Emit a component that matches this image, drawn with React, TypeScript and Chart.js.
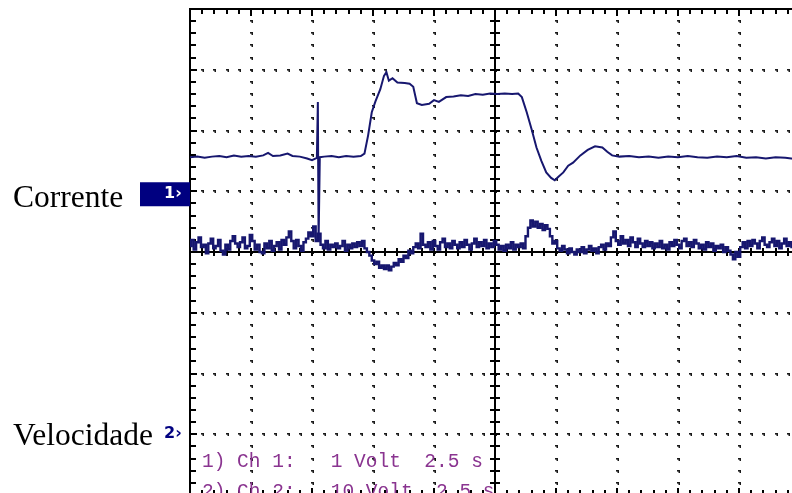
import { useEffect, useRef } from 'react';
import { Chart, registerables } from 'chart.js';

Chart.register(...registerables);

// Graticule: 10 x 8 divisions, 5 minor steps per division
const TIME_PER_DIV = 2.5; // s/div
const DIVS_X = 10;
const DIVS_Y = 8;
const MINOR_STEPS = 5;

// Channel scaling and reference levels (in divisions from the centre line)
const CH1_VOLTS_PER_DIV = 1;
const CH2_VOLTS_PER_DIV = 10;
const CH1_REF_DIV = 1;
const CH2_REF_DIV = -3;

const CHANNEL_LABELS = ['Corrente', 'Velocidade'];
const CHANNEL_MARKERS = ['1\u203A', '2\u203A'];
const READOUT_LINES = ['1) Ch 1:   1 Volt  2.5 s', '2) Ch 2:   10 Volt  2.5 s'];

// Channel 1 (corrente): sample times [s] and levels [V]
const CH1_TIMES = [
  0.0, 0.3, 0.6, 0.9, 1.2, 1.5, 1.8, 2.1, 2.4, 2.7, 3.0, 3.2, 3.4, 3.7, 4.0, 4.2, 4.5, 4.8, 5.0, 5.2,
  5.24, 5.27, 5.32, 5.5, 5.8, 6.1, 6.4, 6.7, 7.0, 7.15, 7.3, 7.45, 7.6, 7.8, 7.95, 8.05, 8.15, 8.3, 8.5, 8.8,
  9.0, 9.15, 9.3, 9.5, 9.8, 10.0, 10.2, 10.5, 10.8, 11.1, 11.4, 11.7, 12.0, 12.3, 12.6, 12.9, 13.2, 13.45, 13.6, 13.8,
  14.0, 14.2, 14.4, 14.6, 14.8, 14.95, 15.1, 15.3, 15.5, 15.7, 16.0, 16.3, 16.6, 16.9, 17.1, 17.3, 17.6, 18.0, 18.4, 18.8,
  19.2, 19.6, 20.0, 20.4, 20.8, 21.2, 21.6, 22.0, 22.4, 22.8, 23.2, 23.6, 24.0, 24.4, 24.8, 25.0,
];
const CH1_VOLTS = [
  0.56, 0.57, 0.55, 0.57, 0.58, 0.56, 0.59, 0.57, 0.58, 0.57, 0.59, 0.63, 0.58, 0.59, 0.62, 0.58, 0.57, 0.54, 0.51, 0.55,
  1.47, -0.82, 0.56, 0.57, 0.58, 0.56, 0.58, 0.57, 0.58, 0.62, 0.92, 1.30, 1.48, 1.68, 1.90, 1.96, 1.82, 1.86, 1.79, 1.78,
  1.77, 1.72, 1.45, 1.42, 1.44, 1.50, 1.47, 1.55, 1.56, 1.58, 1.57, 1.60, 1.59, 1.61, 1.60, 1.61, 1.60, 1.61, 1.55, 1.30,
  1.02, 0.72, 0.50, 0.31, 0.22, 0.18, 0.24, 0.31, 0.42, 0.47, 0.59, 0.68, 0.74, 0.72, 0.65, 0.59, 0.57, 0.58, 0.56, 0.57,
  0.55, 0.57, 0.56, 0.58, 0.56, 0.55, 0.57, 0.56, 0.58, 0.55, 0.56, 0.54, 0.56, 0.55, 0.53, 0.55,
];

// Channel 2 (velocidade): one sample every 0.1 s, levels [V]
const CH2_SAMPLE_PERIOD = 0.1;
const CH2_VOLTS = [
  31.0, 32.0, 30.4, 31.6, 32.4, 30.8, 31.2, 29.8, 31.4, 32.2,
  30.6, 31.0, 32.0, 30.2, 29.6, 31.2, 30.4, 31.8, 32.6, 31.4,
  30.8, 31.6, 32.4, 30.6, 31.0, 32.8, 31.8, 30.4, 31.2, 30.0,
  29.8, 31.4, 30.6, 31.8, 30.2, 31.0, 31.6, 30.4, 32.0, 31.2,
  32.4, 33.4, 31.8, 30.6, 32.0, 31.0, 30.2, 31.6, 32.2, 33.2,
  32.6, 34.2, 31.8, 33.0, 31.2, 30.6, 31.8, 30.4, 31.2, 30.8,
  31.4, 30.6, 31.0, 31.8, 30.2, 31.2, 30.6, 31.4, 30.8, 31.6,
  31.0, 31.8, 30.6, 30.0, 29.4, 28.6, 28.0, 28.4, 27.4, 27.8,
  27.2, 27.8, 27.0, 27.6, 28.2, 27.8, 28.8, 28.4, 29.4, 29.0,
  30.2, 29.8, 30.8, 31.4, 30.6, 33.0, 31.2, 30.8, 31.6, 30.4,
  31.8, 31.0, 30.4, 31.6, 32.2, 30.8, 31.4, 30.6, 31.8, 31.2,
  30.6, 31.6, 30.8, 32.0, 31.2, 30.4, 31.4, 32.2, 30.8, 31.6,
  31.0, 32.0, 30.6, 31.4, 30.8, 31.8, 31.2, 30.4, 31.0, 30.2,
  31.2, 30.6, 31.6, 30.4, 31.2, 30.8, 31.4, 30.6, 32.6, 34.0,
  35.2, 34.2, 35.0, 34.0, 34.6, 33.6, 34.4, 33.8, 32.6, 31.4,
  31.8, 30.6, 30.2, 31.0, 30.4, 29.8, 30.6, 30.0, 29.6, 30.4,
  30.0, 30.8, 29.8, 30.4, 31.0, 30.2, 30.6, 29.8, 30.8, 31.2,
  30.4, 31.4, 31.0, 32.4, 33.4, 31.8, 31.2, 32.6, 31.4, 32.0,
  31.0, 32.4, 31.6, 30.8, 32.2, 31.4, 30.8, 31.8, 31.0, 31.6,
  30.6, 31.4, 30.8, 31.8, 30.6, 31.2, 30.4, 31.6, 31.0, 32.0,
  31.2, 30.6, 31.8, 32.2, 31.0, 31.6, 30.8, 32.0, 31.4, 30.6,
  31.2, 30.4, 31.6, 30.8, 31.4, 30.2, 31.0, 30.6, 31.2, 30.0,
  30.8, 30.2, 29.6, 28.8, 30.0, 29.2, 30.8, 31.6, 30.6, 31.8,
  31.0, 32.0, 31.4, 30.6, 31.8, 32.4, 31.2, 30.8, 31.6, 32.2,
  31.0, 31.8, 30.6, 31.4, 32.2, 31.0, 31.6, 30.8, 31.8, 31.2,
  31.0,
];

const TRACE_COLOR = '#17176f';
const GRID_COLOR = '#1a1a1a';
const READOUT_COLOR = '#8a3490';
const MARKER_BG = '#000080';

const ch1Points = CH1_TIMES.map((t, i) => ({ x: t, y: CH1_REF_DIV + CH1_VOLTS[i] / CH1_VOLTS_PER_DIV }));
const ch2Points = CH2_VOLTS.map((v, i) => ({ x: i * CH2_SAMPLE_PERIOD, y: CH2_REF_DIV + v / CH2_VOLTS_PER_DIV }));

const scopeGraticule = {
  id: 'scopeGraticule',
  beforeDatasetsDraw(chart: any) {
    const { ctx, chartArea: a } = chart;
    const xs = chart.scales.x;
    const ys = chart.scales.y;
    const halfY = DIVS_Y / 2;
    const xMax = TIME_PER_DIV * DIVS_X;
    const px = (d: number) => xs.getPixelForValue((d / DIVS_X) * xMax);
    const py = (d: number) => ys.getPixelForValue(d - halfY);
    const dot = (x: number, y: number) => {
      ctx.fillRect(Math.round(x) - 1, Math.round(y) - 1, 3, 1.6);
      ctx.fillRect(Math.round(x) + 0.5, Math.round(y), 1.5, 2);
    };
    ctx.save();
    ctx.fillStyle = GRID_COLOR;

    // dotted division lines
    for (let i = 1; i < DIVS_X; i++) {
      if (i === DIVS_X / 2) continue;
      for (let j = 1; j < DIVS_Y * MINOR_STEPS; j++) dot(px(i), py(j / MINOR_STEPS));
    }
    for (let j = 1; j < DIVS_Y; j++) {
      if (j === DIVS_Y / 2) continue;
      for (let i = 1; i < DIVS_X * MINOR_STEPS; i++) dot(px(i / MINOR_STEPS), py(j));
    }

    ctx.strokeStyle = '#000';
    ctx.lineWidth = 2;
    const cx = Math.round(px(DIVS_X / 2));
    const cy = Math.round(py(DIVS_Y / 2));
    const line = (x1: number, y1: number, x2: number, y2: number) => {
      ctx.beginPath();
      ctx.moveTo(x1, y1);
      ctx.lineTo(x2, y2);
      ctx.stroke();
    };

    // centre axes with minor ticks
    line(a.left, cy, a.right, cy);
    line(cx, a.top, cx, a.bottom);
    for (let i = 1; i < DIVS_X * MINOR_STEPS; i++) {
      const x = Math.round(px(i / MINOR_STEPS));
      line(x, cy - 4, x, cy + 4);
    }
    for (let j = 1; j < DIVS_Y * MINOR_STEPS; j++) {
      const y = Math.round(py(j / MINOR_STEPS));
      line(cx - 5, y, cx + 5, y);
    }

    // border with inward ticks
    ctx.strokeRect(a.left, a.top, a.right - a.left, a.bottom - a.top);
    for (let i = 1; i < DIVS_X * MINOR_STEPS; i++) {
      const x = Math.round(px(i / MINOR_STEPS));
      const len = i % MINOR_STEPS === 0 ? 7 : 5;
      line(x, a.top, x, a.top + len);
      line(x, a.bottom, x, a.bottom - len);
    }
    for (let j = 1; j < DIVS_Y * MINOR_STEPS; j++) {
      const y = Math.round(py(j / MINOR_STEPS));
      const len = j % MINOR_STEPS === 0 ? 7 : 6;
      line(a.left, y, a.left + len, y);
      line(a.right, y, a.right - len, y);
    }
    ctx.restore();
  },
  afterDatasetsDraw(chart: any) {
    const { ctx, chartArea: a } = chart;
    const ys = chart.scales.y;
    const ref1 = ys.getPixelForValue(CH1_REF_DIV);
    const ref2 = ys.getPixelForValue(CH2_REF_DIV);
    ctx.save();

    // channel names
    ctx.fillStyle = '#000';
    ctx.font = '31.5px "Liberation Serif", "Times New Roman", serif';
    ctx.textBaseline = 'alphabetic';
    ctx.textAlign = 'left';
    ctx.fillText(CHANNEL_LABELS[0], 13, ref1 + 16);
    ctx.fillText(CHANNEL_LABELS[1], 13, ref2 + 11);

    // reference markers
    ctx.fillStyle = MARKER_BG;
    ctx.fillRect(140, ref1 - 9, a.left - 140, 24);
    ctx.font = 'bold 16px "DejaVu Sans", sans-serif';
    ctx.textBaseline = 'middle';
    ctx.fillStyle = '#fff';
    ctx.fillText(CHANNEL_MARKERS[0], 164, ref1 + 3);
    ctx.fillStyle = MARKER_BG;
    ctx.fillText(CHANNEL_MARKERS[1], 164, ref2);

    // settings readout
    ctx.fillStyle = READOUT_COLOR;
    ctx.font = '19.5px "Liberation Mono", "Courier New", monospace';
    ctx.textBaseline = 'alphabetic';
    ctx.fillText(READOUT_LINES[0], a.left + 12, 467);
    ctx.fillText(READOUT_LINES[1], a.left + 12, 497);
    ctx.restore();
  },
};

export default function App() {
  const canvasRef = useRef<HTMLCanvasElement>(null);

  useEffect(() => {
    const canvas = canvasRef.current;
    if (!canvas) return;
    const chart = new Chart(canvas, {
      type: 'line',
      data: {
        datasets: [
          {
            label: CHANNEL_LABELS[0],
            data: ch1Points,
            borderColor: TRACE_COLOR,
            borderWidth: 2,
            pointRadius: 0,
            tension: 0,
          },
          {
            label: CHANNEL_LABELS[1],
            data: ch2Points,
            borderColor: TRACE_COLOR,
            borderWidth: 2.4,
            pointRadius: 0,
            stepped: 'middle',
          },
        ],
      },
      options: {
        animation: false,
        responsive: false,
        devicePixelRatio: 1,
        layout: { padding: { left: 190, top: 9, right: 20, bottom: 15 } },
        scales: {
          x: { type: 'linear', display: false, min: 0, max: TIME_PER_DIV * DIVS_X },
          y: { type: 'linear', display: false, min: -DIVS_Y / 2, max: DIVS_Y / 2 },
        },
        plugins: { legend: { display: false }, tooltip: { enabled: false } },
        events: [],
      },
      plugins: [scopeGraticule],
    });
    return () => chart.destroy();
  }, []);

  return (
    <div
      style={{
        position: 'fixed',
        left: 0,
        top: 0,
        width: 792,
        height: 493,
        overflow: 'hidden',
        background: '#fff',
      }}
    >
      <canvas ref={canvasRef} width={820} height={510} style={{ display: 'block', width: 820, height: 510 }} />
    </div>
  );
}
